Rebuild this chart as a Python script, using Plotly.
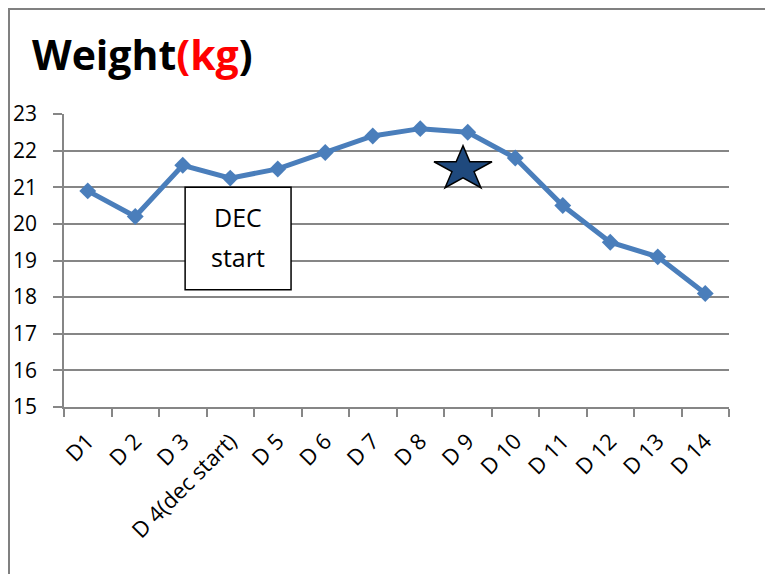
import math
import plotly.graph_objects as go

days = ["D1", "D 2", "D 3", "D 4(dec start)", "D 5", "D 6", "D 7", "D 8", "D 9",
        "D 10", "D 11", "D 12", "D 13", "D 14"]
weight = [20.9, 20.2, 21.6, 21.25, 21.5, 21.95, 22.4, 22.6, 22.5, 21.8, 20.5, 19.5, 19.1, 18.1]
y_ticks = [15, 16, 17, 18, 19, 20, 21, 22, 23]

# annotation positions (data coords)
star_pos = (7.9, 21.5)
box_pos = (2.05, 4.28, 18.2, 21.0)

W, H = 773, 574
ml, mr, mt, mb = 56, 52, 106, 175
pw, ph = W - ml - mr, H - mt - mb

fig = go.Figure()
fig.add_trace(go.Scatter(
    x=days, y=weight, mode="lines+markers",
    line=dict(color="#4A7EBB", width=5),
    marker=dict(symbol="diamond", size=13, color="#4A7EBB"),
    showlegend=False, hoverinfo="x+y",
))

# squashed five-point star path in pixels, anchored at star_pos
R, ry = 30.5, 0.76
pts = []
for i in range(10):
    r = R if i % 2 == 0 else R * 0.382
    a = math.pi / 2 + i * math.pi / 5
    pts.append((r * math.cos(a), r * math.sin(a) * ry))
path = "M " + " L ".join(f"{px:.2f},{py:.2f}" for px, py in pts) + " Z"

gray = "#868686"
fig.update_layout(
    width=W, height=H,
    margin=dict(l=ml, r=mr, t=mt, b=mb, autoexpand=False),
    paper_bgcolor="white", plot_bgcolor="white",
    font=dict(family="Open Sans", color="black"),
    title=dict(
        text="<b>Weight<span style='color:#FF0000'>(kg</span>)</b>",
        font=dict(size=41, family="Open Sans", color="black"),
        xref="container", yref="container",
        x=24 / W, xanchor="left", y=1 - 48 / H, yanchor="middle",
    ),
    xaxis=dict(
        type="category", tickangle=-45, tickson="boundaries", automargin=False,
        showgrid=False, showline=True, linecolor=gray, linewidth=1.5,
        ticks="outside", ticklen=8, tickcolor=gray, tickwidth=1.5,
        tickfont=dict(size=22, family="Open Sans"), ticklabelstandoff=11,
        range=[-0.5, 13.5], fixedrange=True,
    ),
    yaxis=dict(
        range=[15, 23], tickvals=y_ticks, automargin=False,
        showgrid=True, gridcolor=gray, gridwidth=1.5,
        showline=True, linecolor=gray, linewidth=1.5,
        ticks="outside", ticklen=9, tickcolor=gray, tickwidth=1.5,
        tickfont=dict(size=21, family="Open Sans"),
        ticklabelstandoff=12, zeroline=False, fixedrange=True,
    ),
    shapes=[
        # outer chart border
        dict(type="rect", xref="paper", yref="paper",
             x0=(1 - ml) / pw, x1=1.3, y0=-1.0, y1=1 + (mt - 1) / ph,
             line=dict(color="#808080", width=2), fillcolor="rgba(0,0,0,0)", layer="below"),
        # DEC start box
        dict(type="rect", xref="x", yref="y",
             x0=box_pos[0], x1=box_pos[1], y0=box_pos[2], y1=box_pos[3],
             line=dict(color="black", width=1.5), fillcolor="white", layer="above"),
        # star
        dict(type="path", xref="x", yref="y", xsizemode="pixel", ysizemode="pixel",
             xanchor=star_pos[0], yanchor=star_pos[1], path=path,
             fillcolor="#1F497D", line=dict(color="black", width=1.5), layer="above"),
    ],
    annotations=[
        dict(x=(box_pos[0] + box_pos[1]) / 2, y=20.2, xref="x", yref="y",
             text="DEC", showarrow=False, font=dict(size=25, family="Open Sans")),
        dict(x=(box_pos[0] + box_pos[1]) / 2, y=19.1, xref="x", yref="y",
             text="start", showarrow=False, font=dict(size=25, family="Open Sans")),
    ],
)

fig.write_html("out.html")
